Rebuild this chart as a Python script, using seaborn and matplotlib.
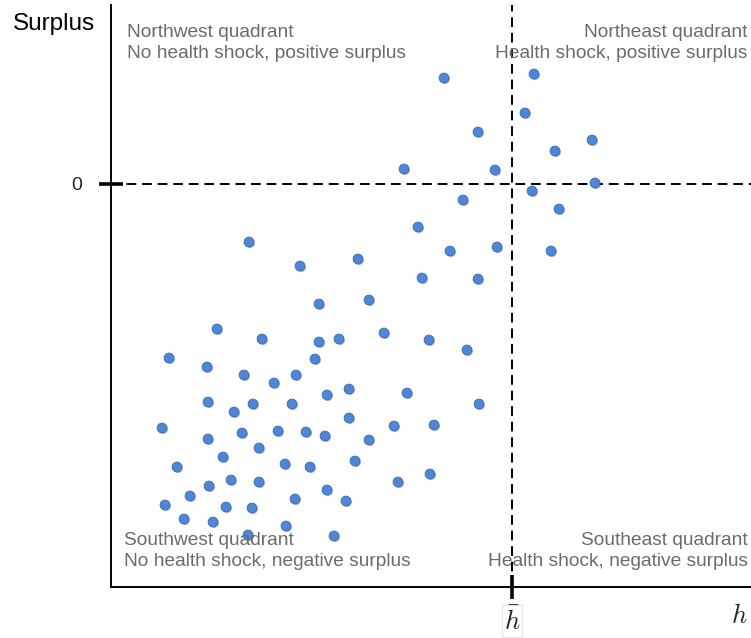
import matplotlib
matplotlib.use("Agg")
import matplotlib.pyplot as plt
import matplotlib.patheffects as pe
import seaborn as sns
import pandas as pd

# health (x) and surplus (y), arbitrary units
health = [333, 423, 414, 367, 481, 444, 293, 384, 484, 421, 352, 448, 307, 339, 386, 440,
          311, 367, 138, 189, 247, 208, 258, 106, 151, 208, 228, 273, 318, 356, 58, 96,
          133, 163, 185, 204, 97, 123, 142, 181, 216, 238, 296, 368, 238, 51, 97, 131,
          167, 195, 214, 258, 283, 323, 112, 148, 66, 174, 199, 244, 98, 120, 148, 287,
          319, 79, 54, 115, 141, 184, 216, 235, 73, 102, 175, 137, 223]
surplus = [106, 110, 71, 52, 44, 33, 15, 14, 1, -7, -16, -25, -43, -67, -63, -67,
           -94, -95, -58, -82, -75, -120, -116, -145, -155, -158, -155, -149, -156, -166, -174, -183,
           -191, -199, -191, -175, -218, -228, -220, -220, -211, -205, -209, -220, -234, -244, -255, -249,
           -247, -248, -252, -256, -242, -241, -273, -264, -283, -280, -283, -277, -302, -296, -298, -298,
           -290, -312, -321, -323, -324, -315, -306, -317, -335, -338, -342, -351, -352]
hbar = 401

df = pd.DataFrame({"health": health, "surplus": surplus})

sns.set_style("white")
plt.rcParams["font.family"] = ["Liberation Sans", "DejaVu Sans"]
plt.rcParams["mathtext.fontset"] = "cm"

fig = plt.figure(figsize=(7.51, 6.38), dpi=100)
ax = fig.add_axes([111 / 751, 51 / 638, 640 / 751, 582 / 638])

ax.axhline(0, color="black", lw=1.4, dashes=(5, 3), zorder=1)
ax.axvline(hbar, color="black", lw=1.4, dashes=(5, 3), zorder=1)

sns.scatterplot(data=df, x="health", y="surplus", ax=ax, s=50, color="#4f86d8",
                edgecolor="#3a6cb8", linewidth=0.6, zorder=3,
                path_effects=[pe.SimplePatchShadow(offset=(0.8, -0.8), alpha=0.35), pe.Normal()])

ax.set_xlim(0, 640)
ax.set_ylim(-403, 179)

for side in ["top", "right"]:
    ax.spines[side].set_visible(False)
for side in ["left", "bottom"]:
    ax.spines[side].set_color("black")
    ax.spines[side].set_linewidth(1.4)

ax.set_xticks([hbar])
ax.set_xticklabels([r"$\bar{h}$"], fontsize=19)
ax.set_yticks([0])
ax.set_yticklabels(["0"], fontsize=14)
ax.tick_params(axis="both", direction="inout", length=17, width=2.6, color="black",
               bottom=True, left=True)
ax.tick_params(axis="x", pad=6)
ax.tick_params(axis="y", pad=12)
for lab in ax.get_xticklabels():
    lab.set_bbox(dict(facecolor="white", edgecolor="#e4e4e4", linewidth=0.8, pad=1.5))
ax.set_xlabel("")
ax.set_ylabel("")

ax.text(0.982, -0.05, r"$h$", transform=ax.transAxes, fontsize=19, ha="center", va="center")
ax.text(-0.089, 0.968, "Surplus", transform=ax.transAxes, fontsize=17.5,
        ha="center", va="center", color="black")

grey = "#6b6b6b"
kw = dict(transform=ax.transAxes, fontsize=13.8, color=grey, va="center", linespacing=1.3)
ax.text(0.025, 0.935, "Northwest quadrant\nNo health shock, positive surplus", ha="left", **kw)
ax.text(0.995, 0.935, "Northeast quadrant\nHealth shock, positive surplus",
        ha="right", multialignment="right", **kw)
ax.text(0.02, 0.062, "Southwest quadrant\nNo health shock, negative surplus", ha="left", **kw)
ax.text(0.995, 0.062, "Southeast quadrant\nHealth shock, negative surplus",
        ha="right", multialignment="right", **kw)

fig.savefig("out.png", dpi=100)
